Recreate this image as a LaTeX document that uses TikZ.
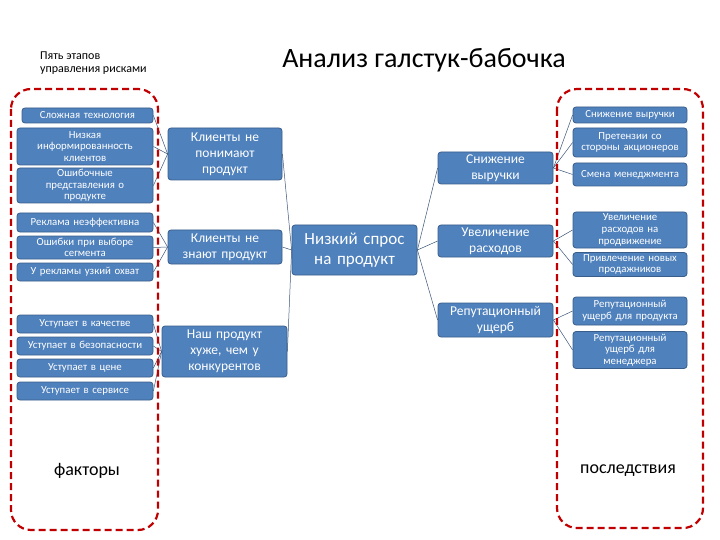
\documentclass[tikz,border=0pt]{standalone}
\usepackage{fontspec}
\setmainfont{Carlito}
\definecolor{boxfill}{HTML}{4F81BD}
\definecolor{boxline}{HTML}{385D8A}
\definecolor{conn}{HTML}{3A5579}
\definecolor{dashred}{HTML}{C00000}
\begin{document}
\begin{tikzpicture}[x=1pt,y=-1pt,
  blk/.style={draw=boxline, fill=boxfill, rounded corners=3pt, text=white, align=center,
    inner xsep=0pt, inner ysep=0pt, line width=0.8pt},
  sm/.style={blk, font=\fontsize{10.8}{11.6}\selectfont},
  md/.style={blk, font=\fontsize{13.5}{16}\selectfont},
  bg/.style={blk, font=\fontsize{17}{20}\selectfont},
  wh/.style 2 args={minimum width=#1pt, text width=#1pt, minimum height=#2pt},
  cn/.style={draw=conn, line width=0.5pt},
  frame/.style={draw=dashred, line width=2.2pt, dash pattern=on 7pt off 4pt, rounded corners=20pt}
]
\useasboundingbox (0,0) rectangle (720,540);

% titles
\node[font=\fontsize{28}{32}\selectfont, anchor=center] (title) at (424,60) {Анализ галстук-бабочка};
\node[font=\fontsize{12}{13}\selectfont, align=left, anchor=west, inner sep=0pt] (sub) at (40,63) {Пять этапов\\управления рисками};

% left factors
\node[sm, wh={131}{15}] (l1) at (87.5,115.5) {Сложная технология};
\node[sm, wh={136}{37}] (l2) at (85,146.5) {Низкая\\информированность\\клиентов};
\node[sm, wh={136}{35}] (l3) at (85,185.5) {Ошибочные\\представления о\\продукте};
\node[sm, wh={136}{19}] (l4) at (85,222.5) {Реклама неэффективна};
\node[sm, wh={136}{23}] (l5) at (85,247.5) {Ошибки при выборе\\сегмента};
\node[sm, wh={136}{18}] (l6) at (85,272) {У рекламы узкий охват};
\node[sm, wh={136}{18}] (l7) at (85,324) {Уступает в качестве};
\node[sm, wh={136}{18}] (l8) at (85,346) {Уступает в безопасности};
\node[sm, wh={136}{18}] (l9) at (85,368) {Уступает в цене};
\node[sm, wh={136}{18}] (l10) at (85,391) {Уступает в сервисе};

% left middle
\node[md, wh={114}{52}] (a) at (225,154) {Клиенты не\\понимают\\продукт};
\node[md, wh={114}{34}] (b) at (225,247) {Клиенты не\\знают продукт};
\node[md, wh={125}{51}] (c) at (224.5,351.5) {Наш продукт\\хуже, чем у\\конкурентов};

% center
\node[bg, wh={125}{50}] (n) at (354.5,250) {Низкий спрос\\на продукт};

% right middle
\node[md, wh={115}{32}] (d) at (495.5,168) {Снижение\\выручки};
\node[md, wh={115}{32}] (e) at (495.5,241) {Увеличение\\расходов};
\node[md, wh={115}{34}] (f) at (495.5,320) {Репутационный\\ущерб};

% right consequences
\node[sm, wh={114}{16}] (r1) at (630,115) {Снижение выручки};
\node[sm, wh={114}{29}] (r2) at (630,142.5) {Претензии со\\стороны акционеров};
\node[sm, wh={114}{23}] (r3) at (630,174.5) {Смена менеджмента};
\node[sm, wh={114}{36}] (r4) at (630,230) {Увеличение\\расходов на\\продвижение};
\node[sm, wh={114}{24}] (r5) at (630,264.5) {Привлечение новых\\продажников};
\node[sm, wh={114}{28}] (r6) at (630,311) {Репутационный\\ущерб для продукта};
\node[sm, wh={114}{37}] (r7) at (630,350) {Репутационный\\ущерб для\\менеджера};

% connectors
\foreach \s in {l1,l2,l3} \draw[cn] (\s.east) -- (a.west);
\foreach \s in {l4,l5,l6} \draw[cn] (\s.east) -- (b.west);
\foreach \s in {l7,l8,l9,l10} \draw[cn] (\s.east) -- (c.west);
\foreach \s in {a,b,c} \draw[cn] (\s.east) -- (n.west);
\foreach \t in {d,e,f} \draw[cn] (n.east) -- (\t.west);
\foreach \t in {r1,r2,r3} \draw[cn] (d.east) -- (\t.west);
\foreach \t in {r4,r5} \draw[cn] (e.east) -- (\t.west);
\foreach \t in {r6,r7} \draw[cn] (f.east) -- (\t.west);

% frames
\draw[frame] (11,89) rectangle (158,530);
\draw[frame] (557,89) rectangle (703,528);
\node[font=\fontsize{18}{21}\selectfont] (fac) at (87,471) {факторы};
\node[font=\fontsize{18}{21}\selectfont] (con) at (628,471) {последствия};
\end{tikzpicture}
\end{document}
